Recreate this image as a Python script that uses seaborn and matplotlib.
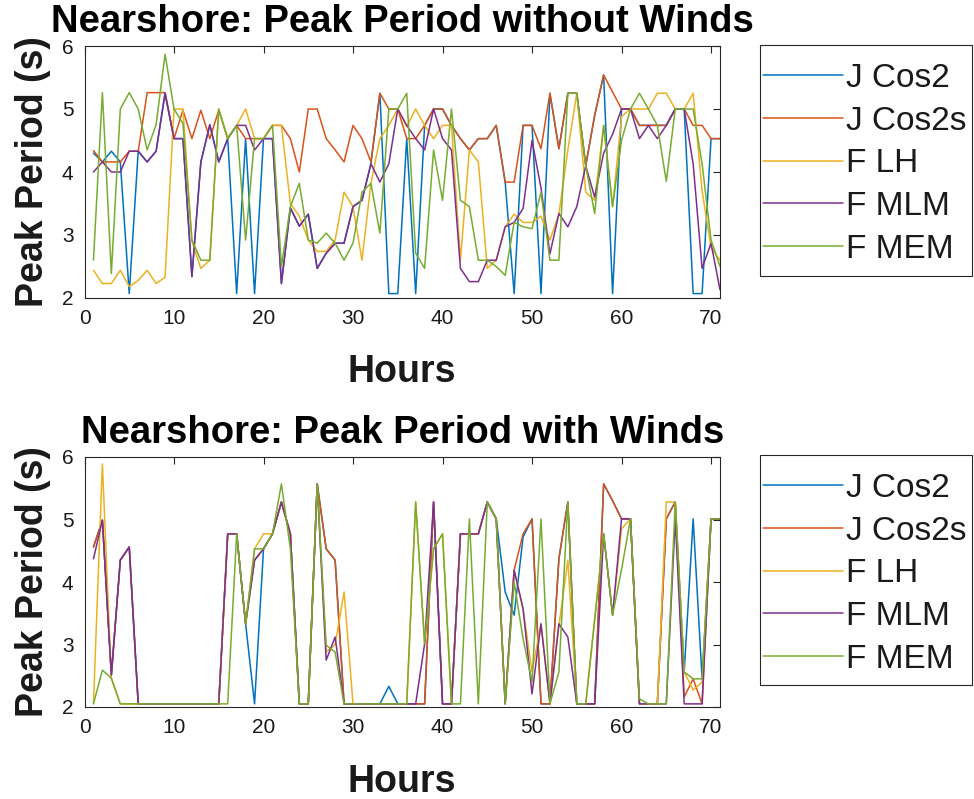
import numpy as np
import pandas as pd
import seaborn as sns
import matplotlib
matplotlib.use('Agg')
import matplotlib.pyplot as plt
from matplotlib.patches import Rectangle

hours = list(range(1, 72))
series_names = ['J Cos2', 'J Cos2s', 'F LH', 'F MLM', 'F MEM']
colors = ['#0072BD', '#D95319', '#EDB120', '#7E2F8E', '#77AC30']
x_ticks = [0, 10, 20, 30, 40, 50, 60, 70]
y_ticks = [2, 3, 4, 5, 6]
titles = ['Nearshore: Peak Period without Winds', 'Nearshore: Peak Period with Winds']

# ---------------- without winds ----------------
top_jcos2 = [4.30, 4.16, 4.33, 4.16, 2.07, 4.33, 4.16, 4.33, 5.25, 4.53,
             4.53, 2.34, 4.16, 4.75, 4.16, 4.53, 2.07, 4.53, 2.07, 4.53,
             4.53, 2.23, 3.43, 3.14, 3.33, 2.47, 2.71, 2.87, 2.87, 3.45,
             3.55, 4.13, 5.25, 2.07, 2.07, 4.53, 2.07, 4.74, 5.00, 5.00,
             4.74, 4.53, 4.35, 4.53, 4.53, 4.74, 3.84, 2.07, 4.74, 4.74,
             2.07, 5.25, 4.37, 5.25, 5.25, 4.10, 4.90, 5.54, 2.07, 5.00,
             5.00, 4.74, 4.74, 4.74, 4.74, 5.00, 5.00, 2.07, 2.07, 4.53,
             4.53]
top_jcos2s = [4.34, 4.16, 4.16, 4.16, 4.33, 4.33, 5.26, 5.26, 5.26, 4.53,
              4.98, 4.53, 4.98, 4.53, 4.98, 4.53, 4.74, 4.53, 4.53, 4.53,
              4.74, 4.74, 4.53, 4.00, 5.00, 5.00, 4.53, 4.35, 4.16, 4.74,
              4.53, 4.16, 5.25, 5.00, 5.00, 4.53, 4.53, 4.74, 5.00, 5.00,
              4.74, 4.53, 4.35, 4.53, 4.53, 4.74, 3.84, 3.84, 4.74, 4.74,
              4.37, 5.25, 4.37, 5.25, 5.25, 4.10, 4.90, 5.54, 5.27, 5.00,
              5.00, 4.74, 4.74, 4.74, 4.74, 5.00, 5.00, 4.74, 4.74, 4.53,
              4.53]
top_flh = [2.44, 2.23, 2.23, 2.44, 2.18, 2.28, 2.44, 2.23, 2.33, 5.00,
           5.00, 2.90, 2.47, 2.60, 5.00, 4.53, 4.74, 5.00, 4.53, 4.53,
           4.74, 4.74, 3.50, 3.30, 2.92, 2.74, 2.74, 2.92, 3.68, 3.45,
           2.60, 3.82, 4.53, 4.74, 5.00, 4.72, 5.00, 4.74, 4.53, 4.74,
           4.74, 2.60, 4.35, 4.16, 2.47, 2.60, 3.13, 3.33, 3.20, 3.20,
           3.30, 2.92, 3.33, 4.35, 5.25, 3.68, 3.55, 4.74, 3.45, 4.88,
           5.00, 5.00, 5.00, 5.25, 5.25, 5.00, 5.00, 5.25, 3.70, 2.80,
           2.60]
top_fmlm = [4.00, 4.16, 4.00, 4.00, 4.33, 4.33, 4.16, 4.33, 5.25, 4.53,
            4.53, 2.34, 4.16, 4.75, 4.16, 4.53, 4.74, 4.74, 4.35, 4.53,
            4.53, 2.23, 3.43, 3.14, 3.33, 2.47, 2.71, 2.87, 2.87, 3.45,
            3.55, 4.13, 3.84, 4.13, 5.00, 4.74, 4.53, 4.35, 5.00, 4.53,
            4.35, 2.47, 2.26, 2.26, 2.60, 2.60, 3.13, 3.20, 3.42, 4.50,
            3.75, 2.70, 3.34, 3.13, 3.45, 4.10, 3.60, 4.30, 4.60, 5.00,
            5.00, 4.53, 4.74, 4.53, 4.74, 5.00, 5.00, 4.13, 2.47, 2.87,
            2.13]
top_fmem = [2.60, 5.26, 2.39, 5.00, 5.26, 5.00, 4.35, 4.75, 5.87, 5.00,
            4.77, 2.92, 2.60, 2.60, 5.00, 4.53, 4.74, 2.92, 4.53, 4.53,
            4.74, 2.50, 3.45, 3.82, 2.92, 2.87, 3.03, 2.87, 2.60, 2.87,
            3.68, 3.82, 3.03, 5.00, 5.00, 5.25, 2.71, 2.47, 4.35, 3.55,
            5.00, 3.55, 3.45, 2.60, 2.60, 2.50, 2.36, 3.20, 3.13, 3.10,
            3.68, 2.60, 2.60, 5.25, 5.25, 4.10, 3.34, 4.74, 3.45, 4.50,
            5.00, 5.25, 5.00, 4.74, 3.85, 5.00, 5.00, 5.00, 4.13, 2.92,
            2.50]

# ---------------- with winds ----------------
bot_jcos2 = [4.56, 4.99, 2.51, 4.35, 4.56, 2.05, 2.05, 2.05, 2.05, 2.05,
             2.05, 2.05, 2.05, 2.05, 2.05, 4.77, 4.77, 3.33, 2.05, 4.53,
             4.77, 5.28, 4.77, 2.05, 2.05, 5.57, 4.53, 4.35, 2.05, 2.05,
             2.05, 2.05, 2.05, 2.33, 2.05, 2.05, 2.05, 2.05, 5.28, 2.05,
             2.05, 4.77, 4.77, 4.77, 5.28, 5.01, 3.84, 3.47, 4.72, 5.01,
             2.05, 2.05, 4.37, 5.28, 2.05, 2.05, 2.05, 5.57, 5.30, 5.01,
             5.01, 2.05, 2.05, 2.05, 5.01, 5.28, 2.56, 5.01, 2.45, 5.01,
             5.01]
bot_jcos2s = [4.56, 4.99, 2.51, 4.35, 4.56, 2.05, 2.05, 2.05, 2.05, 2.05,
              2.05, 2.05, 2.05, 2.05, 2.05, 4.77, 4.77, 3.33, 4.35, 4.53,
              4.77, 5.28, 4.77, 2.05, 2.05, 5.57, 4.53, 4.35, 2.05, 2.05,
              2.05, 2.05, 2.05, 2.05, 2.05, 2.05, 2.05, 2.05, 5.28, 2.05,
              2.05, 4.77, 4.77, 4.77, 5.28, 5.01, 2.05, 4.19, 4.77, 5.01,
              2.05, 2.05, 4.37, 5.28, 2.05, 2.05, 2.05, 5.57, 5.30, 5.01,
              5.01, 2.05, 2.05, 2.05, 5.01, 5.28, 2.16, 2.45, 2.05, 5.01,
              5.01]
bot_flh = [2.05, 5.89, 2.46, 2.05, 2.05, 2.05, 2.05, 2.05, 2.05, 2.05,
           2.05, 2.05, 2.05, 2.05, 2.05, 4.77, 4.77, 3.33, 4.53, 4.77,
           4.77, 5.28, 4.77, 2.05, 2.05, 5.57, 2.88, 3.00, 3.84, 2.05,
           2.05, 2.05, 2.05, 2.05, 2.05, 2.05, 5.28, 3.01, 4.53, 4.77,
           2.05, 4.77, 4.77, 4.77, 5.28, 5.01, 2.05, 4.19, 3.57, 2.56,
           3.33, 2.05, 3.30, 4.35, 2.05, 2.05, 3.40, 4.77, 3.47, 4.85,
           5.01, 2.05, 2.05, 2.05, 5.28, 5.28, 2.56, 2.27, 2.40, 5.01,
           5.01]
bot_fmlm = [4.37, 4.99, 2.51, 4.35, 4.56, 2.05, 2.05, 2.05, 2.05, 2.05,
            2.05, 2.05, 2.05, 2.05, 2.05, 4.77, 4.77, 3.33, 4.35, 4.53,
            4.77, 5.28, 4.77, 2.05, 2.05, 5.57, 2.75, 3.12, 2.05, 2.05,
            2.05, 2.05, 2.05, 2.05, 2.05, 2.05, 2.05, 3.01, 5.28, 2.05,
            2.05, 4.77, 4.77, 4.77, 5.28, 5.01, 2.05, 4.19, 3.57, 2.21,
            3.33, 2.05, 3.33, 3.12, 2.05, 2.05, 2.05, 4.77, 3.47, 5.01,
            5.01, 2.05, 2.05, 2.05, 2.05, 5.01, 2.05, 2.05, 2.05, 5.01,
            5.01]
bot_fmem = [2.05, 2.59, 2.46, 2.05, 2.05, 2.05, 2.05, 2.05, 2.05, 2.05,
            2.05, 2.05, 2.05, 2.05, 2.05, 2.05, 4.77, 3.33, 4.53, 4.53,
            4.77, 5.57, 4.53, 2.05, 2.05, 5.57, 2.99, 2.88, 2.05, 2.05,
            2.05, 2.05, 2.05, 2.05, 2.05, 2.05, 5.28, 3.01, 4.53, 4.77,
            2.05, 2.05, 5.01, 2.05, 5.28, 5.01, 2.05, 4.00, 3.09, 2.40,
            5.01, 2.05, 2.56, 5.28, 2.05, 2.05, 3.40, 4.77, 3.47, 4.20,
            5.01, 2.13, 2.05, 2.05, 2.05, 5.28, 2.56, 2.45, 2.45, 5.01,
            5.01]

top_series = [top_jcos2, top_jcos2s, top_flh, top_fmlm, top_fmem]
bot_series = [bot_jcos2, bot_jcos2s, bot_flh, bot_fmlm, bot_fmem]


def to_long(series_list):
    frames = []
    for name, vals in zip(series_names, series_list):
        frames.append(pd.DataFrame({'Hours': hours, 'Peak': vals, 'Series': name}))
    return pd.concat(frames, ignore_index=True)


sns.set_theme(style='white')
plt.rcParams['font.family'] = ['Liberation Sans', 'DejaVu Sans']

W, H = 974, 799
fig = plt.figure(figsize=(W / 100, H / 100), dpi=100)
ax1 = fig.add_axes([84.5 / W, 1 - 298 / H, 635.5 / W, 252 / H])
ax2 = fig.add_axes([84.5 / W, 1 - 707 / H, 635.5 / W, 250 / H])

spine_c = '#262626'
# (axes, data, title, legend box top px, legend box bottom px)
panels = [(ax1, top_series, titles[0], 45, 276),
          (ax2, bot_series, titles[1], 455, 685)]
for ax, series_list, title, box_top, box_bot in panels:
    df = to_long(series_list)
    sns.lineplot(data=df, x='Hours', y='Peak', hue='Series', hue_order=series_names,
                 palette=colors, linewidth=1.1, ax=ax, legend=True, sort=False,
                 estimator=None)
    handles, labels = ax.get_legend_handles_labels()
    ax.get_legend().remove()
    ax.set_xlim(0, 71)
    ax.set_ylim(2, 6)
    ax.set_xticks(x_ticks)
    ax.set_yticks(y_ticks)
    ax.tick_params(direction='in', length=5, width=0.8, top=True, right=True,
                   labelsize=15, colors=spine_c, labelcolor='#1a1a1a', pad=8)
    for s in ax.spines.values():
        s.set_color(spine_c)
        s.set_linewidth(0.8)
    ax.set_title(title, fontsize=27.5, fontweight='bold', pad=10, color='black')
    ax.set_xlabel('Hours', fontsize=27, fontweight='bold', labelpad=19, color='#1a1a1a')
    ax.set_ylabel('Peak Period (s)', fontsize=27, fontweight='bold', labelpad=8,
                  color='#1a1a1a')

    # legend frame drawn as a rectangle in figure pixels
    rect = Rectangle((760 / W, 1 - box_bot / H), 212 / W, (box_bot - box_top) / H,
                     transform=fig.transFigure, facecolor='white',
                     edgecolor=spine_c, linewidth=0.8, zorder=1)
    fig.add_artist(rect)
    leg = fig.legend(handles, labels, loc='upper left',
                     bbox_to_anchor=(763 / W, 1 - (box_top + 18) / H),
                     bbox_transform=fig.transFigure, fontsize=24, frameon=False,
                     handlelength=2.4, handletextpad=0.09, labelspacing=0.35,
                     borderpad=0, borderaxespad=0)
    leg.set_zorder(5)
    for t in leg.get_texts():
        t.set_color('#1a1a1a')
    for lh in leg.get_lines():
        lh.set_linewidth(1.1)

fig.savefig('out.png', dpi=100)
